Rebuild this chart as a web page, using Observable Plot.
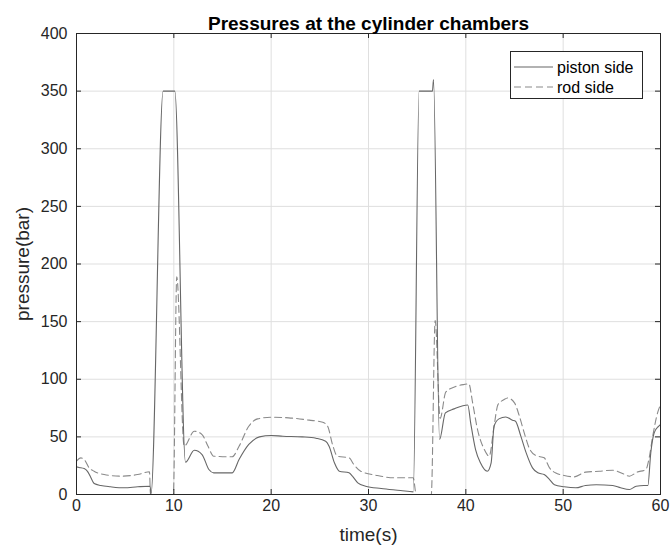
<!DOCTYPE html>
<html>
<head>
<meta charset="utf-8">
<script src="https://cdn.jsdelivr.net/npm/d3@7"></script>
<script src="https://cdn.jsdelivr.net/npm/@observablehq/plot@0.6"></script>
<style>
  html, body { margin: 0; padding: 0; background: #fff; }
  #wrap { position: relative; width: 670px; height: 555px; font-family: "Liberation Sans", Arial, Helvetica, sans-serif; }
  #legend { position: absolute; left: 510px; top: 51px; }
</style>
</head>
<body>
<div id="wrap">
  <div id="chart"></div>
  <div id="legend"></div>
</div>
<script>
const title = "Pressures at the cylinder chambers";
const xLabel = "time(s)";
const yLabel = "pressure(bar)";
const seriesNames = ["piston side", "rod side"];
const xTicks = [0, 10, 20, 30, 40, 50, 60];
const yTicks = [0, 50, 100, 150, 200, 250, 300, 350, 400];

const pistonTime = [0, 0.27, 0.79, 1.13, 1.4, 1.82, 2.5, 3.5, 4.9, 6.3, 7.57, 7.65, 8.9, 10.1, 11.2, 12.1, 12.9, 13.6, 14.1, 16.0, 16.7, 17.7, 18.8, 20, 21.2, 23.2, 24.6, 25.6, 25.95, 26.5, 27.0, 28.0, 28.35, 28.9, 29.7, 31.3, 33.3, 34.6, 35.2, 36.57, 36.68, 37.3, 37.9, 38.8, 40.2, 40.5, 41.0, 41.5, 42.2, 42.6, 42.9, 43.4, 44.1, 44.8, 45.1, 45.65, 46.2, 46.85, 47.4, 48.05, 48.6, 49.1, 50.1, 51.3, 52.3, 53.4, 55.1, 55.9, 56.8, 57.5, 58.3, 58.7, 59.0, 59.35, 59.8, 60];
const pistonPress = [24, 23.5, 22.5, 20, 16, 9.5, 7.8, 6.7, 5.8, 6.7, 7.2, 0, 350, 350, 28, 38.4, 34.7, 21.7, 18.8, 18.8, 30.3, 43.4, 50, 51.2, 50.6, 50, 48.8, 46.2, 41.9, 27.5, 20.2, 18.8, 15.9, 10.1, 7.2, 5.2, 3.5, 2.3, 350, 350, 360, 47.7, 70.8, 74.3, 77.7, 62, 39, 27.5, 20.2, 27.5, 59.2, 65.6, 67.3, 64.5, 63.6, 50.6, 36.1, 23.1, 18.8, 17.3, 13, 8.4, 6.7, 5.8, 7.8, 8.4, 7.8, 5.8, 4.3, 7.2, 7.8, 7.8, 36.1, 53.5, 59.2, 60.7];

const rodTime = [0, 0.45, 0.79, 1.3, 1.8, 2.84, 4.55, 6.27, 7.5, 7.6, 9.95, 10.3, 11.06, 12.1, 12.9, 13.5, 14.1, 16.0, 16.7, 17.7, 18.6, 20, 21.8, 23.9, 25.3, 25.8, 26.3, 26.8, 28.0, 28.5, 29.2, 30.9, 32.6, 34.6, 34.9, 36.45, 36.85, 37.36, 37.94, 38.97, 40.2, 40.3, 40.7, 41.2, 41.9, 42.4, 42.9, 43.3, 43.9, 44.3, 45.0, 45.5, 46.0, 46.5, 47.2, 48.05, 48.6, 49.2, 50.1, 51.1, 52.3, 53.7, 55.1, 56.1, 56.8, 57.6, 58.5, 58.8, 59.2, 59.7, 60];
const rodPress = [29, 31.8, 30.4, 23.1, 20.2, 17.3, 15.9, 17.3, 19.7, 0, 0, 189, 42, 54.9, 52, 42, 33.2, 32.7, 41.9, 59.2, 65.6, 67, 66.5, 64.5, 62.7, 59.2, 43.4, 33.2, 31.8, 26, 20.2, 16.5, 14.5, 14.5, 0, 0, 151, 66, 88.8, 93.8, 96, 96.2, 79.5, 56.4, 39, 33.2, 59.2, 78, 82.2, 83.8, 79.5, 68, 53.5, 40.5, 33.8, 31.8, 23.1, 18.8, 16.5, 15.3, 19.4, 20.2, 21.1, 18.2, 15.9, 19.4, 21.7, 30.3, 50.6, 70.8, 78];

const piston = pistonTime.map((t, i) => ({t, p: pistonPress[i]}));
const rod = rodTime.map((t, i) => ({t, p: rodPress[i]}));

const axisColor = "#262626";
const gridColor = "#dfdfdf";
const pistonColor = "#676767";
const rodColor = "#8a8a8a";
const dash = "7,4";
const font = "'Liberation Sans', Arial, Helvetica, sans-serif";

const W = 670, H = 555, mT = 33, mB = 61, mL = 76, mR = 10;
const innerH = H - mT - mB, innerW = W - mL - mR;
const tickLen = 5;

const chart = Plot.plot({
  width: W, height: H,
  marginTop: mT, marginBottom: mB, marginLeft: mL, marginRight: mR,
  style: {fontFamily: font, color: axisColor, background: "#fff"},
  x: {domain: [0, 60], ticks: xTicks},
  y: {domain: [0, 400], ticks: yTicks},
  marks: [
    Plot.gridX(xTicks, {stroke: gridColor, strokeOpacity: 1}),
    Plot.gridY(yTicks, {stroke: gridColor, strokeOpacity: 1}),
    Plot.line(rod, {x: "t", y: "p", stroke: rodColor, strokeWidth: 1.1, strokeDasharray: dash, curve: "monotone-x", clip: true}),
    Plot.line(piston, {x: "t", y: "p", stroke: pistonColor, strokeWidth: 1.1, curve: "monotone-x", clip: true}),
    Plot.tickX(xTicks, {x: d => d, stroke: axisColor, insetTop: innerH - tickLen}),
    Plot.tickX(xTicks, {x: d => d, stroke: axisColor, insetBottom: innerH - tickLen}),
    Plot.tickY(yTicks, {y: d => d, stroke: axisColor, insetRight: innerW - tickLen}),
    Plot.tickY(yTicks, {y: d => d, stroke: axisColor, insetLeft: innerW - tickLen}),
    Plot.frame({stroke: axisColor}),
    Plot.axisX(xTicks, {tickSize: 0, tickPadding: 5, fontSize: 16, fill: axisColor, label: null}),
    Plot.axisY(yTicks, {tickSize: 0, tickPadding: 9, fontSize: 16, fill: axisColor, label: null}),
    Plot.text([xLabel], {frameAnchor: "bottom", dy: 46, fontSize: 19, fill: axisColor}),
    Plot.text([yLabel], {frameAnchor: "left", textAnchor: "middle", dx: -54, rotate: -90, fontSize: 19, fill: axisColor}),
    Plot.text([title], {frameAnchor: "top", dy: -17, fontSize: 19, fontWeight: "bold", fill: "#000"})
  ]
});
document.getElementById("chart").appendChild(chart);

// legend
const lw = 132, lh = 47;
const lg = d3.select("#legend").append("svg").attr("width", lw + 1).attr("height", lh + 1)
  .style("font-family", font);
lg.append("rect").attr("x", 0.5).attr("y", 0.5).attr("width", lw).attr("height", lh)
  .attr("fill", "#fff").attr("stroke", axisColor);
const rows = [
  {name: seriesNames[0], color: pistonColor, dash: null, y: 16},
  {name: seriesNames[1], color: rodColor, dash: dash, y: 36}
];
rows.forEach(r => {
  lg.append("line").attr("x1", 4).attr("x2", 43).attr("y1", r.y).attr("y2", r.y)
    .attr("stroke", r.color).attr("stroke-width", 1.1).attr("stroke-dasharray", r.dash);
  lg.append("text").attr("x", 47).attr("y", r.y).attr("dy", "0.35em")
    .attr("font-size", 16).attr("fill", "#000").text(r.name);
});
</script>
</body>
</html>
